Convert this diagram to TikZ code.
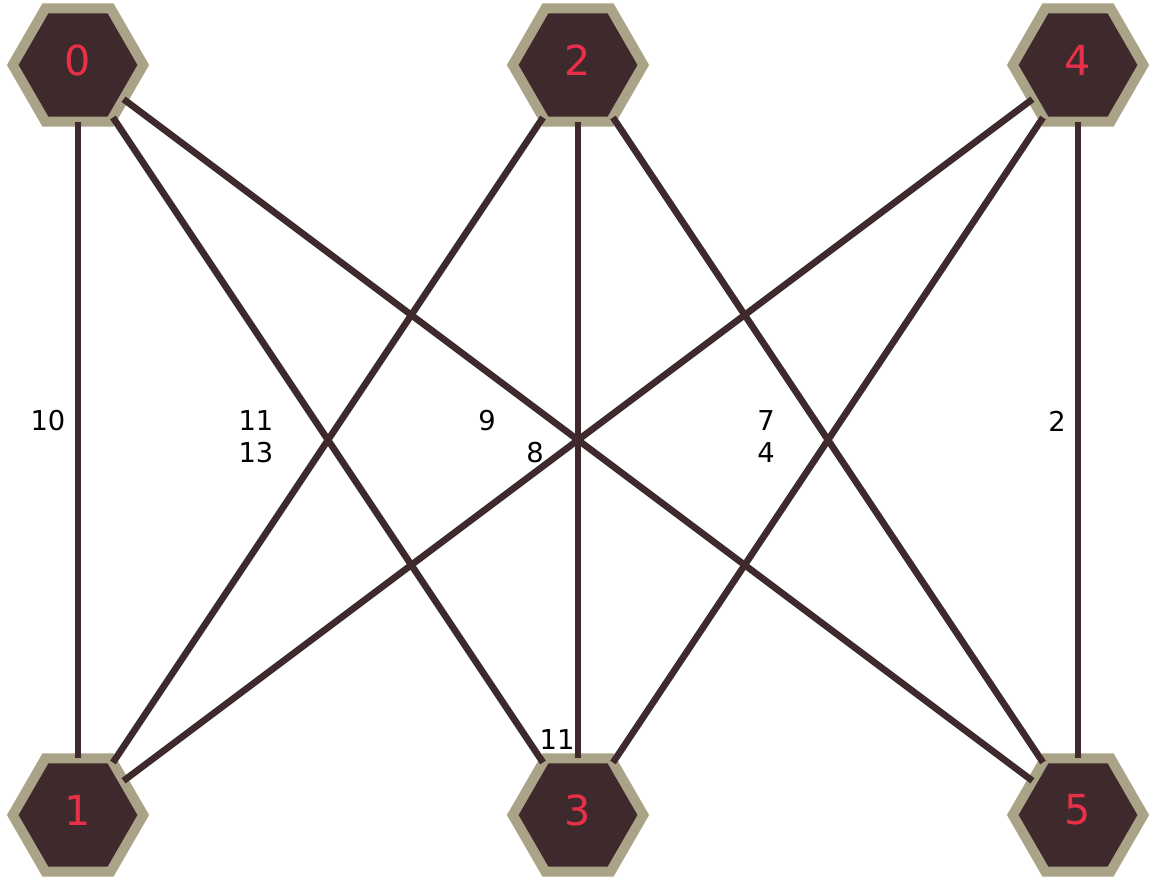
\documentclass[tikz,border=0pt]{standalone}
\usepackage{fontspec}
\setmainfont{DejaVu Sans}
\usetikzlibrary{shapes.geometric}
\definecolor{hexfill}{RGB}{62,42,44}
\definecolor{hexborder}{RGB}{171,163,135}
\definecolor{hextext}{RGB}{232,48,72}
\begin{document}
\begin{tikzpicture}[x=0.75pt,y=-0.75pt,
  hexnode/.style={regular polygon, regular polygon sides=6, minimum size=98pt,
    inner sep=0pt, outer sep=0pt, fill=hexfill, draw=hexborder, line width=7.5pt,
    label={[text=hextext, font=\fontsize{31}{36}\selectfont, yshift=3.75pt, inner sep=0pt]center:#1}},
  link/.style={draw=hexfill, line width=5pt},
  elabel/.style={font=\fontsize{20.5}{24}\selectfont, text=black, inner sep=0pt}]
\useasboundingbox (0,0) rectangle (1156,880);
\node[hexnode=0] (n0) at (78,65) {};
\node[hexnode=2] (n2) at (578,65) {};
\node[hexnode=4] (n4) at (1078,65) {};
\node[hexnode=1] (n1) at (78,815) {};
\node[hexnode=3] (n3) at (578,815) {};
\node[hexnode=5] (n5) at (1078,815) {};
\draw[link] (n0) -- (n1);
\draw[link] (n0) -- (n3);
\draw[link] (n0) -- (n5);
\draw[link] (n2) -- (n1);
\draw[link] (n2) -- (n3);
\draw[link] (n2) -- (n5);
\draw[link] (n4) -- (n1);
\draw[link] (n4) -- (n3);
\draw[link] (n4) -- (n5);
\node[elabel] (l01) at (48,421) {10};
\node[elabel] (l03) at (256,421) {11};
\node[elabel] (l21) at (256,453) {13};
\node[elabel] (l05) at (487,421) {9};
\node[elabel] (l41) at (535,453) {8};
\node[elabel] (l25) at (766,421) {7};
\node[elabel] (l43) at (766,453) {4};
\node[elabel] (l45) at (1057,421) {2};
\node[elabel] (l23) at (557,740) {11};
\end{tikzpicture}
\end{document}
